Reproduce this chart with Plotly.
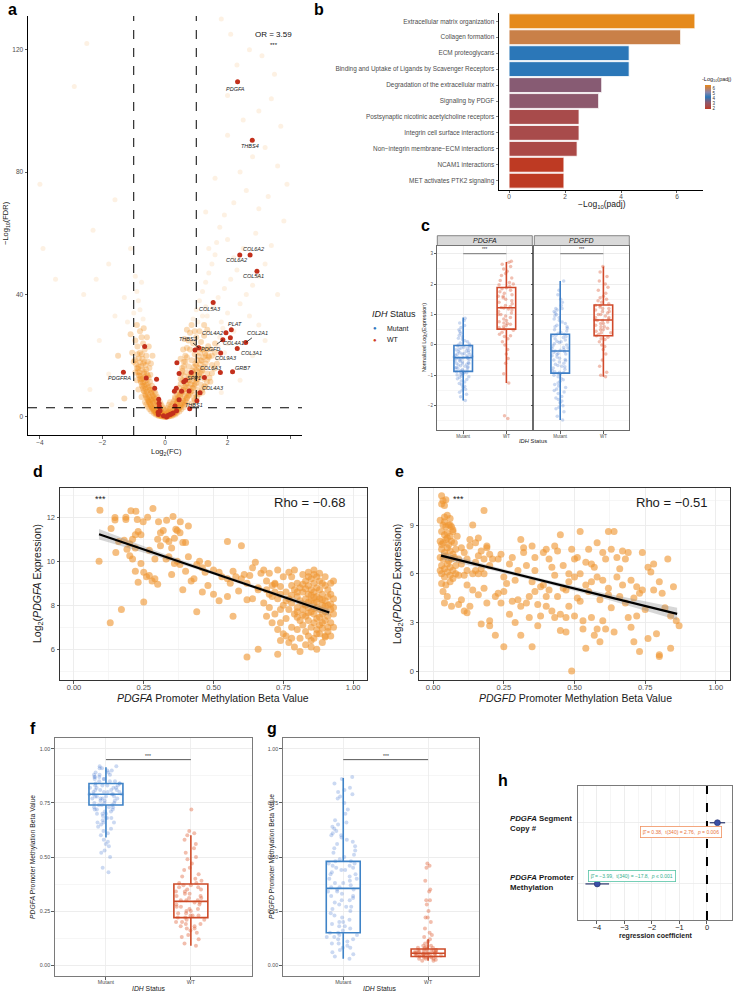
import numpy as np
import plotly.graph_objects as go

FONT = "Liberation Sans, Arial, Helvetica, sans-serif"
W, H = 736, 993

# ---------------- DATA ----------------
# (a) volcano: background genes (log2FC, -log10 FDR)
volc_bg = [
 (-0.02,0.1),(0.03,0.1),(-0.06,0.3),(0.07,0.3),(-0.1,0.6),(0.11,0.5),(-0.13,0.9),(0.14,0.8),(-0.16,1.2),(0.17,1.1),
 (-0.19,1.6),(0.2,1.5),(-0.22,2.0),(0.23,1.9),(-0.25,2.5),(0.26,2.4),(-0.28,3.0),(0.29,2.9),(-0.31,3.5),(0.32,3.4),
 (-0.34,4.0),(0.35,3.9),(-0.37,4.6),(0.38,4.5),(-0.4,5.2),(0.41,5.0),(-0.43,5.8),(0.44,5.6),(-0.08,0.2),(0.09,0.2),
 (-0.12,0.4),(0.13,0.4),(-0.18,0.7),(0.19,0.7),(-0.24,1.1),(0.25,1.0),(-0.29,1.5),(0.3,1.4),(-0.33,2.0),(0.34,2.0),
 (-0.38,2.6),(0.4,2.5),(-0.42,3.2),(0.45,3.1),(-0.46,3.9),(0.49,3.8),(-0.5,4.6),(0.53,4.5),(-0.53,5.3),(0.57,5.3),
 (-0.05,1.0),(0.06,1.1),(-0.1,1.8),(0.1,1.9),(-0.14,2.6),(0.15,2.7),(-0.18,3.4),(0.2,3.5),(-0.22,4.2),(0.24,4.3),
 (-0.26,5.0),(0.28,5.1),(-0.3,5.8),(0.32,5.9),(-0.2,0.3),(0.22,0.3),(-0.3,0.8),(0.33,0.8),(-0.36,1.3),(0.38,1.3),
 (-0.44,1.9),(0.46,1.8),(-0.5,2.6),(0.52,2.5),(-0.55,3.3),(0.6,3.2),(-0.6,4.1),(0.65,4.0),(-0.64,4.9),(0.7,4.8),
 (0.0,0.6),(0.0,1.4),(0.04,2.2),(-0.04,2.4),(0.08,3.0),(-0.07,3.1),(0.12,4.0),(-0.11,3.8),(0.16,4.8),(-0.15,4.6),
 (-0.35,6.5),(-0.4,7.2),(-0.45,8.0),(-0.5,8.8),(-0.55,9.6),(-0.6,10.5),(-0.65,11.5),(-0.7,12.6),(-0.38,9.0),(-0.42,10.2),
 (-0.48,11.5),(-0.52,12.8),(-0.58,14.0),(-0.62,7.0),(-0.68,8.5),(-0.72,10.0),(-0.78,11.8),(-0.82,13.5),(-0.3,7.5),(-0.33,8.3),
 (-0.75,6.5),(-0.85,9.0),(-0.9,12.0),(-0.95,14.5),(-0.25,6.5),(-0.57,6.2),(-0.47,13.8),(-0.66,14.8),
 (0.42,6.5),(0.48,7.3),(0.54,8.2),(0.6,9.0),(0.66,9.9),(0.72,10.9),(0.78,12.0),(0.84,13.2),(0.9,14.5),(0.45,9.5),
 (0.5,10.8),(0.56,12.0),(0.62,13.3),(0.68,14.6),(0.75,7.0),(0.82,8.2),(0.88,9.5),(0.95,10.8),(1.02,12.2),(1.1,13.6),
 (1.18,15.0),(0.38,7.5),(0.4,8.5),(0.98,7.4),(1.05,8.8),(1.15,10.5),(1.25,12.5),(1.35,14.2),(0.32,6.5),(0.7,6.3),
 (0.92,6.2),(1.2,8.0),(1.3,9.8),(1.45,11.5),(0.52,14.2),(1.0,15.3),
 (-0.5,16),(-0.55,18),(-0.6,20),(-0.65,22),(-0.7,24),(-0.75,26),(-0.8,28),(-0.45,17.5),(-0.62,17),(-0.72,19),
 (-0.8,21),(-0.88,23),(-0.95,25),(-1.0,18),(-1.05,21),(-0.4,20),(-0.52,23),(-0.58,26),(-0.68,29),(-0.85,16.5),
 (-1.1,27),(-0.9,30),
 (0.55,16),(0.6,18),(0.65,20),(0.7,22.5),(0.75,25),(0.8,27.5),(0.85,30),(0.75,16.5),(0.85,18.5),(0.95,20.5),
 (1.05,22.5),(1.15,24.5),(1.25,26.5),(1.35,28.5),(1.0,17),(1.15,18.5),(1.3,20),(1.45,22),(1.6,24),(1.75,26),
 (1.5,17),(1.7,19),(1.9,21),(0.5,19),(0.58,22),(0.62,25.5),(0.7,28.5),(1.1,28),(1.25,30),(1.4,19.5),
 (2.0,24),(2.2,28),(1.85,29),
 (-0.28,1.2),(-0.33,1.7),(-0.36,2.3),(-0.41,2.9),(-0.45,3.5),(-0.48,4.2),(-0.52,5.0),(-0.56,5.8),(-0.6,6.6),(-0.63,7.5),
 (-0.67,8.4),(-0.7,9.3),(-0.74,10.3),(-0.77,11.3),(-0.8,12.4),(-0.84,13.6),(-0.87,14.8),(-0.9,16.0),(-0.93,17.3),(-0.96,18.6),
 (-0.32,5.0),(-0.36,6.0),(-0.4,6.9),(-0.44,7.9),(-0.48,8.9),(-0.52,9.9),(-0.56,10.9),(-0.6,12.0),(-0.64,13.1),(-0.68,14.2),
 (-0.72,15.4),(-0.76,16.6),(-0.8,17.9),(-0.84,19.2),(-0.88,20.5),(-0.46,5.5),(-0.5,6.4),(-0.54,7.3),(-0.58,8.2),(-0.62,9.2),
 (-0.66,10.2),(-0.7,11.2),(-0.74,12.3),(-0.78,13.4),(-0.82,14.6),(-0.86,15.8),(-0.7,17.5),(-0.74,20.5),(-0.66,18.0),(-0.6,15.5),
 (-0.55,13.5),
 (0.3,1.2),(0.35,1.7),(0.4,2.2),(0.45,2.8),(0.5,3.4),(0.55,4.0),(0.6,4.7),(0.65,5.4),(0.7,6.1),(0.75,6.9),
 (0.8,7.7),(0.85,8.5),(0.9,9.4),(0.95,10.3),(1.0,11.2),(1.05,12.2),(1.1,13.2),(1.15,14.2),(1.2,15.3),(1.25,16.4),
 (1.3,17.5),(1.35,18.7),(1.4,19.9),(0.36,4.8),(0.42,5.8),(0.47,6.8),(0.52,7.8),(0.57,8.8),(0.62,9.8),(0.67,10.8),
 (0.72,11.9),(0.77,13.0),(0.82,14.1),(0.87,15.2),(0.92,16.3),(0.97,17.4),(1.02,18.6),(1.07,19.8),(1.12,21.0),(1.17,22.2),
 (0.58,6.0),(0.63,6.9),(0.68,7.8),(0.73,8.7),(0.78,9.7),(0.83,10.7),(0.88,11.7),(0.93,12.7),(0.98,13.8),(1.03,14.9),
 (1.08,16.0),(1.13,17.1),(1.18,18.3),(1.23,19.5),(1.28,20.7),(1.33,21.9),(1.38,23.1),(0.88,4.5),(0.95,5.5),(1.02,6.5),
 (1.1,7.5),(1.18,8.7),(1.26,10.0),(1.34,11.4),(1.42,12.8),(1.5,14.3),(1.58,15.8),(1.66,17.4),(0.5,12.5),(0.55,15),
 (0.6,16.5),(0.65,18),(0.7,19.5),(0.8,22),(0.9,24),(1.0,26),(1.2,22),(1.5,20),(1.6,21),(1.7,23),
 (0.95,28),(1.05,31),(1.2,33),(1.3,36),
 (-0.1,0.15),(0.12,0.15),(-0.15,0.35),(0.16,0.35),(-0.2,0.6),(0.2,0.6),(-0.25,0.7),(0.27,0.7),(0.0,0.0),(0.05,0.5),
 (-0.05,0.6),(0.1,1.3),(-0.1,1.3),(0.14,1.8),(-0.14,1.9),
 (-0.7,32),(-0.8,35),(-0.85,38),(-0.9,41),(-0.75,44),(-1.0,34),(-1.2,31),(-0.95,46),(-1.3,39),(-1.6,33),
 (-2.2,45),(-2.6,40),(-1.1,55),(-1.8,50),
 (0.9,32),(1.0,35),(1.1,38),(1.2,41),(1.3,44),(1.4,47),(1.5,50),(1.6,53),(1.35,33),(1.55,36),
 (1.7,39),(1.9,42),(2.1,45),(2.3,48),(1.8,31),(2.0,34),(2.4,37),(2.6,40),(2.8,43),(3.0,46),
 (3.2,50),(2.5,55),(2.0,58),(1.75,62),(2.9,60),(3.4,56),(3.6,40),(3.0,30),(2.7,33),(1.65,57),
 (2.2,52),(1.4,55),(-1.5,20),(-1.8,14),(-2.1,25),(-2.4,9),(-1.3,6),(-1.7,4),(2.4,12),(2.8,20),(3.2,25),(1.8,8),
 (1.9,66),(2.2,70),(2.6,74),(3.0,68),(3.3,72),(2.4,80),(2.8,85),(3.2,88),(3.6,82),(2.0,92),
 (2.5,97),(3.0,100),(3.4,104),(2.3,115),(2.7,120),(3.1,118),(3.5,112),(1.8,130),(2.1,125),(3.7,95),
 (1.6,78),(1.3,67),(3.9,76),(2.0,105),(3.8,64),(-2.9,108),(-2.5,122),(-4.0,76),(-3.9,55),(-3.5,45),
 (-2.3,61),(-1.6,71),
]
# (a) highlighted (ECM / PDGF pathway) genes
volc_hl = [
 (2.32,109.5),(2.79,90.4),(2.72,52.9),(2.39,52.9),(2.94,47.6),(1.54,37.4),(2.12,28.5),(1.95,27.5),(2.09,25.9),
 (1.85,25.2),(2.58,24.3),(2.31,22.4),(0.96,21.9),(1.08,22.6),(1.78,20.9),(-0.65,23.0),(0.38,17.7),(2.16,14.8),
 (1.77,14.5),(-1.33,14.6),(0.45,14.2),(0.84,14.5),(1.26,12.9),(-0.6,12.7),(-0.27,12.3),(0.66,12.0),(0.6,11.5),
 (-0.33,9.4),(0.36,9.4),(0.53,8.4),(0.77,8.5),(1.12,7.9),(0.3,8.4),(-0.2,5.8),(0.45,5.6),(1.02,5.3),(-0.18,3.3),
 (0.32,3.6),(0.79,2.7),(-0.16,2.0),(-0.21,0.8),(-0.05,0.4),(0.05,0.0),(0.16,0.8),(0.26,1.3),(0.37,2.0),
 (-0.19,4.5),(-0.22,1.5),(0.09,0.5),(0.2,1.0),
]
# gene labels: (name, label x, label y)
volc_labels = [
 ("PDGFA",2.24,107.2),("THBS4",2.72,88.5),("COL6A2",2.84,55.0),("COL6A2",2.30,51.2),("COL5A1",2.84,45.9),
 ("COL5A3",1.45,35.4),("PLAT",2.25,30.3),("COL4A2",1.51,27.4),("COL4A1",2.19,24.1),("COL3A1",2.78,20.8),
 ("COL9A3",1.94,19.2),("COL6A3",1.47,16.0),("GRB7",2.50,16.0),("PDGFRA",-1.44,12.6),("SPP1",0.94,12.7),
 ("COL4A3",1.54,9.6),("THBS1",0.92,3.8),
]
# labels with leader lines: (name, point x, point y, label x, label y)
volc_leader = [("THBS2",1.08,22.6,0.72,25.6),("PDGFD",1.85,25.2,1.46,22.3),("COL2A1",2.58,24.3,2.97,27.3)]
volc_fc_cut = [-1, 1]
volc_fdr_cut = 3.0

# (b) Reactome enrichment
b_terms = ["Extracellular matrix organization","Collagen formation","ECM proteoglycans",
           "Binding and Uptake of Ligands by Scavenger Receptors","Degradation of the extracellular matrix",
           "Signaling by PDGF","Postsynaptic nicotinic acetylcholine receptors","Integrin cell surface interactions",
           "Non\u2212integrin membrane\u2212ECM interactions","NCAM1 interactions","MET activates PTK2 signaling"]
b_vals = [6.64, 6.13, 4.29, 4.29, 3.31, 3.20, 2.50, 2.50, 2.43, 1.96, 1.96]
b_ticks = [0, 2, 4, 6]

# (c) normalized expression by IDH status
c_genes = ["PDGFA", "PDGFD"]
c_groups = ["Mutant", "WT"]
c_pdgfa_mut = [-1.83,-1.71,-1.62,-1.56,-1.49,-1.46,-1.39,-1.36,-1.31,-1.27,-1.22,-1.19,-1.14,-1.11,-1.07,-1.05,-1.02,-0.99,
 -0.97,-0.95,-0.92,-0.9,-0.88,-0.86,-0.85,-0.83,-0.81,-0.78,-0.76,-0.74,-0.72,-0.7,-0.69,-0.66,-0.64,-0.62,-0.6,-0.58,
 -0.56,-0.54,-0.52,-0.5,-0.48,-0.46,-0.44,-0.43,-0.42,-0.41,-0.4,-0.38,-0.36,-0.34,-0.32,-0.3,-0.28,-0.26,-0.24,-0.22,
 -0.2,-0.18,-0.16,-0.14,-0.12,-0.1,-0.08,-0.06,-0.04,-0.02,0.0,0.03,0.06,0.1,0.14,0.18,0.22,0.27,0.32,0.38,0.44,0.5,
 0.57,0.64,0.72,0.8,0.88,-0.91,-0.75,-0.61,-0.45,-0.31]
c_pdgfa_wt = [-2.42,-2.33,-1.25,-0.95,-0.6,-0.45,-0.3,-0.15,0.0,0.1,0.2,0.28,0.35,0.42,0.48,0.52,0.56,0.6,0.64,0.68,0.72,
 0.76,0.8,0.85,0.9,0.95,1.0,1.05,1.1,1.15,1.18,1.21,1.23,1.26,1.3,1.35,1.4,1.45,1.5,1.55,1.6,1.65,1.7,1.75,1.8,1.85,
 1.88,1.92,1.98,2.05,2.12,2.2,2.28,2.35,2.42,2.5,2.58,2.65,2.72,2.75,0.3,0.7,1.0,1.6,2.0]
c_pdgfd_mut = [-2.47,-2.35,-2.2,-2.1,-2.0,-1.9,-1.85,-1.75,-1.7,-1.6,-1.55,-1.5,-1.45,-1.4,-1.35,-1.3,-1.25,-1.2,-1.15,
 -1.1,-1.05,-1.0,-0.97,-0.94,-0.91,-0.88,-0.85,-0.8,-0.76,-0.72,-0.68,-0.64,-0.6,-0.56,-0.52,-0.48,-0.44,-0.4,-0.36,
 -0.32,-0.28,-0.25,-0.22,-0.2,-0.18,-0.15,-0.12,-0.08,-0.04,0.0,0.04,0.08,0.12,0.16,0.2,0.24,0.28,0.32,0.35,0.38,0.42,
 0.46,0.5,0.55,0.6,0.65,0.7,0.75,0.8,0.85,0.9,0.95,1.0,1.05,1.1,1.15,1.2,1.3,1.4,1.5,1.65,1.8,2.1,-0.5,-0.3,-0.1,0.1,
 -0.9,-0.7,0.3,-1.8,-2.05,1.2,0.6]
c_pdgfd_wt = [-1.05,-1.0,-0.9,-0.7,-0.5,-0.3,-0.15,0.0,0.1,0.18,0.25,0.3,0.35,0.4,0.45,0.5,0.55,0.6,0.65,0.7,0.75,0.8,
 0.82,0.85,0.9,0.95,1.0,1.05,1.1,1.15,1.2,1.25,1.3,1.35,1.4,1.5,1.55,1.6,1.7,1.8,1.9,2.0,2.1,2.25,2.4,2.58,0.5,0.7,
 0.9,1.1,1.3,0.4,0.6,0.8,1.0,1.2,-0.05,1.45,0.2]
# box stats: lower whisker, q1, median, q3, upper whisker
c_pdgfa_mut_box = [-1.83, -0.87, -0.42, -0.02, 0.90]
c_pdgfa_wt_box = [-1.25, 0.52, 1.22, 1.89, 2.73]
c_pdgfd_mut_box = [-2.47, -0.93, -0.20, 0.35, 2.10]
c_pdgfd_wt_box = [-1.05, 0.30, 0.82, 1.31, 2.58]

# (d) PDGFA methylation vs expression
d_beta = [0.093,0.09,0.133,0.147,0.147,0.186,0.186,0.204,0.222,0.227,0.248,0.264,0.283,0.303,0.332,0.355,0.381,
 0.15,0.16,0.18,0.2,0.21,0.22,0.23,0.24,0.19,0.22,0.2,0.21,0.24,0.22,0.25,0.23,0.26,0.27,0.28,0.29,0.25,0.13,0.17,0.3,
 0.33,0.34,0.35,0.37,0.27,0.3,0.31,0.32,0.33,0.34,0.35,0.36,0.37,0.39,0.4,0.38,0.41,0.365,0.31,0.29,0.36,0.38,0.40,
 0.42,0.43,0.44,0.45,0.41,0.39,0.46,0.47,
 0.48,0.5,0.52,0.53,0.55,0.57,0.56,0.58,0.59,0.6,0.61,0.62,0.64,0.65,0.63,0.66,0.67,0.68,0.69,0.69,0.70,0.71,0.72,0.73,
 0.75,0.74,0.55,0.6,0.52,0.5,0.55,0.57,0.62,0.64,0.66,0.68,0.7,0.46,0.48,0.44,0.66,0.73,0.74,0.62,0.77,
 0.76,0.77,0.78,0.78,0.79,0.79,0.8,0.8,0.8,0.81,0.81,0.81,0.82,0.82,0.82,0.82,0.83,0.83,0.83,0.83,0.83,0.84,0.84,0.84,
 0.84,0.84,0.84,0.85,0.85,0.85,0.85,0.85,0.86,0.86,0.86,0.86,0.86,0.86,0.86,0.87,0.87,0.87,0.87,0.87,0.87,0.88,0.88,
 0.88,0.88,0.88,0.88,0.89,0.89,0.89,0.89,0.89,0.9,0.9,0.9,0.9,0.9,0.91,0.91,0.91,0.91,0.92,0.92,0.92,0.92,0.93,0.93,
 0.93,0.78,0.79,0.77,0.76,0.75,0.74,0.73,0.72,0.71,0.8,0.81,0.83,0.85,0.87,0.89,0.9,0.76,0.78,0.74,0.72,0.78,0.8,0.82,
 0.84,0.86,0.88,0.9,0.92,0.83,0.85,0.87,0.89,0.91,0.93,0.86,0.84,0.82,0.8,0.85,0.87,0.89,0.91,0.92,0.93,0.9,0.88,0.86,
 0.84,0.82,0.8,0.78,0.76,0.74,0.72,0.7,0.69,0.71,0.73,0.75,0.77,0.79,0.81]
d_expr = [12.32,10.0,11.49,11.99,11.87,11.9,12.0,12.29,12.27,11.9,11.8,12.0,12.4,11.8,11.86,12.03,11.8,
 10.4,10.9,10.95,10.8,11.0,11.2,11.35,11.2,10.55,10.6,10.25,10.1,9.9,9.55,9.5,9.05,9.3,9.35,9.1,9.2,8.15,7.2,7.8,8.95,
 10.1,10.2,9.4,10.0,10.5,11.0,11.3,11.4,11.0,10.9,10.6,11.05,11.4,10.85,10.85,11.3,11.6,11.45,10.7,10.1,9.9,9.85,9.55,
 9.1,9.2,9.85,10.0,10.2,8.7,9.7,9.5,
 9.9,9.6,9.5,9.3,9.2,9.55,9.0,9.3,8.65,9.2,9.4,9.0,9.7,9.95,9.35,8.8,9.45,9.6,9.1,8.7,9.45,8.9,9.0,9.6,
 9.3,8.5,10.9,10.7,8.2,8.5,8.4,7.5,8.25,8.3,8.7,8.1,7.9,8.6,8.9,7.7,6.0,5.77,6.4,5.65,9.5,
 8.6,8.3,8.9,8.1,8.7,7.6,9.0,8.4,7.9,8.2,8.8,7.3,9.4,8.6,7.8,7.1,9.1,8.3,8.0,7.5,6.8,9.5,8.9,8.5,
 7.9,7.3,6.6,9.2,8.7,8.2,7.7,7.0,9.4,9.0,8.6,8.1,7.6,7.2,6.5,9.3,8.8,8.4,7.9,7.4,6.9,9.1,8.7,
 8.3,7.8,7.1,6.7,9.0,8.5,8.0,7.6,7.2,8.9,8.2,7.7,7.3,6.6,8.7,8.0,7.5,7.0,8.5,7.8,7.2,6.6,8.3,7.6,
 7.0,9.3,9.6,7.8,7.4,8.0,7.8,8.3,8.6,8.4,6.9,6.5,6.2,6.1,6.0,6.3,6.55,6.6,6.5,7.2,7.6,7.0,7.45,8.05,
 8.15,7.85,7.45,7.95,8.05,8.75,8.45,8.15,8.25,8.4,7.9,8.35,7.65,7.55,7.7,6.4,6.7,6.95,6.8,9.0,9.1,9.3,9.45,9.6,
 9.3,8.95,8.6,8.45,8.2,8.85,8.95,8.5,7.5,7.2,6.9,6.7,6.3,6.1,5.9]
d_fit_x = [0.090, 0.915]
d_fit_y = [11.23, 7.67]
d_band_x = [0.09, 0.3, 0.5, 0.7, 0.915]
d_band_half = [0.24, 0.12, 0.08, 0.08, 0.15]

# (e) PDGFD methylation vs expression
e_beta = [0.03,0.035,0.04,0.03,0.045,0.025,0.04,0.05,0.06,0.035,0.045,0.055,0.065,0.03,0.04,0.05,0.06,0.07,0.025,0.035,
 0.045,0.055,0.065,0.075,0.03,0.04,0.05,0.06,0.07,0.08,0.025,0.035,0.045,0.055,0.065,0.075,0.03,0.04,0.05,0.06,0.07,
 0.08,0.03,0.04,0.05,0.06,0.07,0.03,0.045,0.06,0.035,0.05,0.04,0.065,0.03,0.05,0.07,0.04,0.06,0.025,0.08,0.09,0.085,0.09,
 0.1,0.1,0.11,0.11,0.12,0.12,0.13,0.13,0.14,0.14,0.15,0.15,0.16,0.16,0.17,0.17,0.18,0.18,0.19,0.19,0.2,0.2,0.1,0.11,
 0.12,0.13,0.15,0.16,0.18,0.19,0.09,0.14,0.2,0.18,0.16,0.12,0.17,0.2,0.21,0.22,
 0.22,0.23,0.24,0.25,0.25,0.26,0.27,0.28,0.28,0.29,0.3,0.3,0.31,0.31,0.32,0.33,0.34,0.35,0.35,0.36,0.36,0.37,0.38,0.38,
 0.39,0.4,0.4,0.41,0.41,0.42,0.42,0.43,0.43,0.44,0.44,0.45,0.45,0.46,0.46,0.47,0.47,0.48,0.48,0.49,0.49,0.5,0.5,0.51,
 0.51,0.52,0.52,0.53,0.53,0.54,0.54,0.55,0.55,0.56,0.56,0.57,0.57,0.58,0.58,0.59,0.59,0.6,0.6,0.61,0.61,0.62,0.62,0.63,
 0.63,0.64,0.64,0.65,0.65,0.66,0.66,0.45,0.4,0.34,0.33,0.36,0.39,0.48,0.52,0.58,0.62,0.29,0.27,0.32,0.24,0.23,0.31,0.6,
 0.54,0.56,0.43,0.47,0.5,0.35,0.37,0.25,
 0.67,0.67,0.68,0.68,0.69,0.7,0.7,0.71,0.72,0.72,0.73,0.73,0.74,0.74,0.75,0.76,0.77,0.78,0.78,0.79,0.8,0.81,0.82,0.83,
 0.84,0.85,0.86,0.87,0.84,0.8,0.76,0.71,0.69,0.8]
e_expr = [10.8,10.5,10.2,10.3,10.55,9.3,9.5,9.6,9.4,9.0,8.9,9.0,8.9,8.6,8.4,8.5,8.3,8.6,8.0,7.9,
 8.1,7.8,8.0,7.9,7.5,7.3,7.6,7.4,7.2,7.5,7.0,6.9,7.1,6.8,6.9,7.0,6.5,6.3,6.6,6.4,6.2,
 6.5,6.0,5.8,6.1,5.9,5.7,5.4,5.3,5.5,4.9,4.6,4.2,4.0,7.8,8.2,8.7,9.2,9.0,6.2,6.0,6.9,8.3,5.9,
 7.6,6.6,7.3,5.9,6.9,6.2,7.7,4.0,6.0,9.0,6.7,6.2,7.1,4.7,7.4,2.9,6.0,5.1,7.6,4.2,6.5,2.8,4.4,3.7,
 3.6,8.1,7.9,8.2,9.9,7.7,4.1,5.0,3.1,6.9,6.0,5.3,6.3,7.2,6.9,4.6,
 2.2,6.9,7.2,5.8,4.9,5.4,6.6,7.0,4.3,3.0,4.4,6.2,8.1,4.0,7.3,4.2,4.6,7.7,5.5,4.9,7.0,2.8,3.4,5.2,
 7.3,7.5,4.6,6.9,5.0,3.7,6.4,7.7,5.9,4.6,7.4,3.5,8.4,5.1,6.5,2.4,3.3,6.0,4.0,7.5,0.0,5.8,3.4,7.0,
 4.5,8.6,6.0,2.6,3.1,5.3,6.7,4.9,7.5,3.3,6.6,2.2,6.4,7.9,5.8,4.4,1.8,5.6,3.1,6.9,2.6,5.1,8.6,7.5,
 3.9,8.6,2.4,5.8,7.0,4.6,6.3,2.5,4.0,3.3,6.5,6.2,5.3,5.5,4.3,2.6,4.7,5.6,3.5,7.6,4.2,4.8,2.2,7.3,
 1.4,5.5,3.3,5.0,6.9,1.5,4.1,1.5,
 5.3,7.4,6.9,4.2,3.3,5.6,2.7,1.8,5.2,3.4,4.8,1.2,7.3,5.0,3.8,6.4,6.1,5.0,6.6,2.3,5.5,4.8,3.9,6.9,
 3.4,5.2,3.1,2.8,1.4,1.0,2.0,4.5,7.3,0.9]
e_fit_x = [0.028, 0.863]
e_fit_y = [7.11, 3.52]
e_band_x = [0.028, 0.2, 0.4, 0.6, 0.863]
e_band_half = [0.22, 0.13, 0.11, 0.17, 0.38]

# (f) PDGFA promoter methylation by IDH status
f_mut = [0.43,0.45,0.5,0.52,0.53,0.55,0.56,0.57,0.58,0.6,0.61,0.62,0.63,0.64,0.65,0.66,0.66,0.67,0.68,0.68,0.69,0.7,0.7,
 0.71,0.71,0.72,0.72,0.73,0.73,0.73,0.74,0.74,0.74,0.75,0.75,0.75,0.76,0.76,0.76,0.77,0.77,0.77,0.77,0.78,0.78,0.78,
 0.78,0.79,0.79,0.79,0.79,0.79,0.8,0.8,0.8,0.8,0.81,0.81,0.81,0.81,0.82,0.82,0.82,0.82,0.83,0.83,0.83,0.83,0.84,0.84,
 0.84,0.85,0.85,0.85,0.86,0.86,0.86,0.87,0.87,0.87,0.88,0.88,0.88,0.89,0.89,0.9,0.9,0.91,0.91,0.92,0.92,0.72,0.7,0.68,0.66]
f_wt = [0.09,0.1,0.12,0.13,0.14,0.15,0.16,0.17,0.17,0.18,0.18,0.19,0.19,0.2,0.2,0.21,0.21,0.22,0.22,0.23,0.23,0.24,0.24,
 0.25,0.25,0.26,0.26,0.27,0.27,0.28,0.28,0.29,0.29,0.3,0.3,0.3,0.31,0.31,0.32,0.32,0.33,0.33,0.34,0.34,0.35,0.35,0.36,
 0.36,0.37,0.37,0.38,0.38,0.39,0.4,0.41,0.42,0.44,0.45,0.47,0.49,0.5,0.52,0.54,0.56,0.58,0.6,0.61,0.62,0.72,0.23]
f_mut_box = [0.59, 0.74, 0.79, 0.84, 0.915]
f_wt_box = [0.09, 0.22, 0.295, 0.375, 0.60]

# (g) PDGFD promoter methylation by IDH status
g_mut = [0.03,0.04,0.05,0.06,0.07,0.08,0.08,0.09,0.1,0.1,0.11,0.12,0.12,0.13,0.13,0.14,0.14,0.15,0.15,0.16,0.17,0.18,
 0.18,0.19,0.2,0.2,0.21,0.22,0.23,0.24,0.25,0.26,0.27,0.27,0.28,0.29,0.3,0.3,0.31,0.32,0.32,0.33,0.34,0.34,0.35,0.35,
 0.36,0.36,0.37,0.38,0.38,0.39,0.4,0.4,0.41,0.42,0.42,0.43,0.44,0.44,0.45,0.45,0.46,0.46,0.47,0.47,0.48,0.48,0.49,0.5,
 0.51,0.52,0.53,0.54,0.55,0.56,0.57,0.58,0.59,0.6,0.6,0.61,0.62,0.63,0.64,0.65,0.66,0.67,0.7,0.72,0.75,0.77,0.78,0.79,
 0.8,0.81,0.82,0.84,0.86,0.87]
g_wt = [0.02,0.025,0.03,0.03,0.035,0.035,0.04,0.04,0.04,0.045,0.045,0.045,0.05,0.05,0.05,0.05,0.05,0.055,0.055,0.055,
 0.055,0.06,0.06,0.06,0.06,0.065,0.065,0.065,0.07,0.07,0.07,0.075,0.075,0.08,0.08,0.085,0.09,0.09,0.1,0.11,0.12,0.02,
 0.03,0.04,0.05,0.06,0.07,0.08,0.035,0.045,0.055,0.065,0.13,0.14,0.15,0.17,0.2,0.22,0.22,0.25,0.28,0.3,0.3,0.34,0.35,
 0.39,0.45,0.46,0.47]
g_mut_box = [0.03, 0.15, 0.355, 0.48, 0.865]
g_wt_box = [0.02, 0.04, 0.055, 0.075, 0.12]

# (h) multiple regression
h_terms = ["PDGFA Promoter Methylation", "PDGFA Segment Copy #"]
h_coef = [-3.99, 0.38]
h_err = [0.43, 0.28]
h_stats = ["\u03b2\u0302 = \u22123.99,  t(340) = \u221217.8,  <i>p</i> \u2264 0.001",
           "\u03b2\u0302 = 0.38,  t(340) = 2.76,  <i>p</i> = 0.006"]

# ---------------- FIGURE ----------------
def X(p): return p / W
def Y(p): return 1 - p / H

BLUE_L, RED_L = "#3D7EC6", "#D0492A"
BLUE_P, RED_P = "rgba(70,120,205,0.28)", "rgba(220,95,60,0.40)"
GRID = "#EBEBEB"
TICKC = "#4D4D4D"

fig = go.Figure()
ann = []
shapes = []

def txt(x, y, text, size, **kw):
    d = dict(x=X(x), y=Y(y), xref="paper", yref="paper", text=text, showarrow=False,
             xanchor="center", yanchor="middle",
             font=dict(size=size, family=FONT, color=kw.pop("color", "#1a1a1a")))
    d.update(kw)
    ann.append(d)

# ---- (a) volcano (dense core of the V drawn a bit stronger than the sparse outer genes)
core = [p for p in volc_bg if abs(p[0]) < 1.7 and p[1] < 31]
outer = [p for p in volc_bg if not (abs(p[0]) < 1.7 and p[1] < 31)]
fig.add_trace(go.Scatter(x=[p[0] for p in outer], y=[p[1] for p in outer], mode="markers", xaxis="x", yaxis="y",
                         hoverinfo="skip", marker=dict(color="#F2962A", size=5, opacity=0.13, line=dict(width=0)),
                         showlegend=False))
fig.add_trace(go.Scatter(x=[p[0] for p in core], y=[p[1] for p in core], mode="markers", xaxis="x", yaxis="y",
                         hoverinfo="skip", marker=dict(color="#F0901E", size=6, opacity=0.32, line=dict(width=0)),
                         showlegend=False))
fig.add_trace(go.Scatter(x=[p[0] for p in volc_hl], y=[p[1] for p in volc_hl], mode="markers", xaxis="x", yaxis="y",
                         marker=dict(color="#C3301C", size=5, line=dict(width=0)), showlegend=False))
for v in volc_fc_cut:
    shapes.append(dict(type="line", xref="x", yref="y domain", x0=v, x1=v, y0=0, y1=1,
                       line=dict(color="black", width=1, dash="dash")))
shapes.append(dict(type="line", xref="x domain", yref="y", x0=0, x1=1, y0=volc_fdr_cut, y1=volc_fdr_cut,
                   line=dict(color="black", width=1, dash="dash")))
for name, lx, ly in volc_labels:
    ann.append(dict(x=lx, y=ly, xref="x", yref="y", text=f"<i>{name}</i>", showarrow=False,
                    font=dict(size=5.5, family=FONT, color="#222")))
for name, x0, y0, lx, ly in volc_leader:
    ann.append(dict(x=x0, y=y0, ax=lx, ay=ly, xref="x", yref="y", axref="x", ayref="y",
                    text=f"<i>{name}</i>", showarrow=True, arrowhead=0, arrowwidth=0.8, arrowcolor="#111",
                    font=dict(size=5.5, family=FONT, color="#222")))
ann.append(dict(x=3.48, y=124.8, xref="x", yref="y", text="OR = 3.59", showarrow=False,
                font=dict(size=8, family=FONT, color="#111")))
ann.append(dict(x=3.48, y=121.5, xref="x", yref="y", text="***", showarrow=False,
                font=dict(size=6, family=FONT, color="#111")))
txt(166, 452, "Log<sub>2</sub>(FC)", 7.5)
txt(6, 223, "\u2212Log<sub>10</sub>(FDR)", 7.5, textangle=-90)

# ---- (b) bars
fig.add_trace(go.Bar(x=b_vals, y=b_terms, orientation="h", xaxis="x2", yaxis="y2", showlegend=False,
                     marker=dict(color=b_vals, cmin=1.95, cmax=6.64, line=dict(color="white", width=0.8),
                                 colorscale=[[0, "#BE3A22"], [0.117, "#A84B4B"], [0.28, "#8B5A70"], [0.50, "#2B77B8"],
                                             [0.70, "#8E86A8"], [0.89, "#C98049"], [1, "#E58A1C"]],
                                 colorbar=dict(x=X(705), xanchor="left", y=Y(97), yanchor="middle", len=24,
                                               lenmode="pixels", thickness=6, thicknessmode="pixels",
                                               outlinewidth=0, ticks="", xpad=0, ypad=0,
                                               tickvals=[2, 3, 4, 5, 6],
                                               tickfont=dict(size=4.5, family=FONT, color="#333"))),
                     width=0.93))
txt(602, 204, "\u2212Log<sub>10</sub>(padj)", 8.5)
txt(717, 79, "-Log<sub>10</sub>(padj)", 5.5)

# ---- (c) boxplots
def box_pair(vals, stats, xpos, color_l, color_p, xa, ya, width, psize):
    fig.add_trace(go.Box(y=vals, x0=xpos, xaxis=xa, yaxis=ya, boxpoints="all", jitter=1, pointpos=0,
                         width=width, fillcolor="rgba(0,0,0,0)", line=dict(color="rgba(0,0,0,0)", width=0),
                         marker=dict(color=color_p, size=psize, line=dict(width=0)), showlegend=False,
                         hoverinfo="skip"))
    fig.add_trace(go.Box(x=[xpos], lowerfence=[stats[0]], q1=[stats[1]], median=[stats[2]], q3=[stats[3]],
                         upperfence=[stats[4]], xaxis=xa, yaxis=ya, width=width, whiskerwidth=0,
                         fillcolor="rgba(0,0,0,0)", line=dict(color=color_l, width=1.6), boxpoints=False,
                         showlegend=False))

box_pair(c_pdgfa_mut, c_pdgfa_mut_box, 1, BLUE_L, BLUE_P, "x3", "y3", 0.43, 3.5)
box_pair(c_pdgfa_wt, c_pdgfa_wt_box, 2, RED_L, RED_P, "x3", "y3", 0.43, 3.5)
box_pair(c_pdgfd_mut, c_pdgfd_mut_box, 1, BLUE_L, BLUE_P, "x4", "y4", 0.43, 3.5)
box_pair(c_pdgfd_wt, c_pdgfd_wt_box, 2, RED_L, RED_P, "x4", "y4", 0.43, 3.5)
for xa, ya in [("x3", "y3"), ("x4", "y4")]:
    shapes.append(dict(type="line", xref=xa, yref=ya, x0=1, x1=2, y0=3.0, y1=3.0, line=dict(color="#555", width=0.8)))
    ann.append(dict(x=1.5, y=3.13, xref=xa, yref=ya, text="***", showarrow=False, font=dict(size=4.5, family=FONT, color="#333")))
for (x0, x1), gname in zip([(437.3, 532.3), (534.3, 629.3)], c_genes):
    shapes.append(dict(type="rect", xref="paper", yref="paper", x0=X(x0), x1=X(x1), y0=Y(245.5), y1=Y(235.7),
                       fillcolor="#D9D9D9", line=dict(color="#6b6b6b", width=0.8)))
    txt((x0 + x1) / 2, 240.6, f"<i>{gname}</i>", 7)
txt(424, 338, "Normalized Log<sub>2</sub>(Expression)", 5.3, textangle=-90)
txt(533, 441, "<i>IDH</i> Status", 5.8)
# legend (IDH status)
txt(370, 314, "<i>IDH</i> Status", 9, xanchor="left")
for (g, col), yy in zip(zip(c_groups, ["#2F78BE", "#CF3B26"]), [328, 340]):
    txt(375, yy, "\u25CF", 6, color=col)
    txt(385, yy, g, 7, xanchor="left")

# ---- (d), (e) scatter
def scat(bx, by, fx, fy, bandx, bandh, xa, ya):
    line_b = np.interp(bandx, fx, fy)
    up = list(line_b + np.array(bandh)); lo = list(line_b - np.array(bandh))
    fig.add_trace(go.Scatter(x=bx, y=by, mode="markers", xaxis=xa, yaxis=ya, showlegend=False,
                             marker=dict(color="rgba(239,150,50,0.62)", size=7, line=dict(width=0))))
    fig.add_trace(go.Scatter(x=list(bandx) + list(bandx)[::-1], y=up + lo[::-1], fill="toself", mode="lines",
                             line=dict(width=0), fillcolor="rgba(140,140,140,0.35)", xaxis=xa, yaxis=ya,
                             showlegend=False, hoverinfo="skip"))
    fig.add_trace(go.Scatter(x=fx, y=fy, mode="lines", line=dict(color="black", width=2.2), xaxis=xa, yaxis=ya,
                             showlegend=False))

scat(d_beta, d_expr, d_fit_x, d_fit_y, d_band_x, d_band_half, "x5", "y5")
scat(e_beta, e_expr, e_fit_x, e_fit_y, e_band_x, e_band_half, "x6", "y6")
txt(348, 502, "Rho = \u22120.68", 13, xanchor="right")
txt(710, 502, "Rho = \u22120.51", 13, xanchor="right")
txt(100, 499, "***", 9)
txt(458, 499, "***", 9)
txt(38, 584, "Log<sub>2</sub>(<i>PDGFA</i> Expression)", 10.5, textangle=-90)
txt(398, 584, "Log<sub>2</sub>(<i>PDGFD</i> Expression)", 10.5, textangle=-90)
txt(213, 698, "<i>PDGFA</i> Promoter Methylation Beta Value", 10.5)
txt(575, 698, "<i>PDGFD</i> Promoter Methylation Beta Value", 10.5)

# ---- (f), (g)
box_pair(f_mut, f_mut_box, 1, "#3F83C7", "rgba(70,120,210,0.28)", "x7", "y7", 0.4, 4)
box_pair(f_wt, f_wt_box, 2, "#CD4B28", "rgba(225,100,60,0.42)", "x7", "y7", 0.4, 4)
box_pair(g_mut, g_mut_box, 1, "#3F83C7", "rgba(70,120,210,0.28)", "x8", "y8", 0.4, 4)
box_pair(g_wt, g_wt_box, 2, "#CD4B28", "rgba(225,100,60,0.42)", "x8", "y8", 0.4, 4)
for xa, ya in [("x7", "y7"), ("x8", "y8")]:
    shapes.append(dict(type="line", xref=xa, yref=ya, x0=1, x1=2, y0=0.95, y1=0.95, line=dict(color="#444", width=0.9)))
    ann.append(dict(x=1.5, y=0.968, xref=xa, yref=ya, text="***", showarrow=False, font=dict(size=5, family=FONT, color="#333")))
txt(33, 857, "<i>PDGFA</i> Promoter Methylation Beta Value", 6.8, textangle=-90)
txt(272, 857, "<i>PDGFD</i> Promoter Methylation Beta Value", 6.8, textangle=-90)
txt(148, 988, "<i>IDH</i> Status", 6.8)
txt(379, 988, "<i>IDH</i> Status", 6.8)

# ---- (h)
fig.add_trace(go.Scatter(x=h_coef, y=h_terms, mode="markers", xaxis="x9", yaxis="y9", showlegend=False,
                         marker=dict(color="#3A4FA6", size=6, line=dict(color="#27306a", width=0.6)),
                         error_x=dict(type="data", array=h_err, color="#46507E", thickness=1.4, width=0)))
shapes.append(dict(type="line", xref="x9", yref="y9 domain", x0=0, x1=0, y0=0, y1=1,
                   line=dict(color="black", width=2, dash="dash")))
ann.append(dict(x=-0.95, y=0.85, xref="x9", yref="y9", text=h_stats[1], showarrow=False,
                font=dict(size=5, family=FONT, color="#E8743B"), bordercolor="#F1925F", borderwidth=0.8,
                borderpad=2, bgcolor="white"))
ann.append(dict(x=-2.71, y=0.13, xref="x9", yref="y9", text=h_stats[0], showarrow=False,
                font=dict(size=5, family=FONT, color="#34B08E"), bordercolor="#56C4A5", borderwidth=0.8,
                borderpad=2, bgcolor="white"))
txt(508, 823, "<b><i>PDGFA</i> Segment<br>Copy #</b>", 7.8, xanchor="left", align="left")
txt(508, 882, "<b><i>PDGFA</i> Promoter<br>Methylation</b>", 7.8, xanchor="left", align="left")
txt(655, 936, "<b>regression coefficient</b>", 7)

# ---- panel letters
for L, (x, y) in zip("abcdefgh", [(13, 9), (319, 9), (425, 225), (38, 472), (399, 472), (33, 728), (272, 728), (503, 780)]):
    txt(x, y, f"<b>{L}</b>", 16, color="black")

# ---------------- AXES ----------------
def axis(domain, rng, tickvals=None, ticktext=None, size=7, line=True, mirror=False, grid=False, lc="black",
         lw=1, ticks="outside", showlabels=True, **kw):
    d = dict(domain=domain, range=rng, showline=line, linecolor=lc, linewidth=lw, mirror=mirror,
             showgrid=grid, gridcolor=GRID, gridwidth=0.8, zeroline=False, ticks=ticks, ticklen=2.5,
             tickcolor="#333", tickwidth=0.8, tickfont=dict(size=size, family=FONT, color=TICKC),
             showticklabels=showlabels, fixedrange=True)
    if tickvals is not None:
        d["tickmode"] = "array"; d["tickvals"] = tickvals
        if ticktext is not None:
            d["ticktext"] = ticktext
    d.update(kw)
    return d

lay = dict(width=W, height=H, margin=dict(l=0, r=0, t=0, b=0), autosize=False, showlegend=False,
           paper_bgcolor="white", plot_bgcolor="rgba(0,0,0,0)", boxmode="overlay", bargap=0.07,
           font=dict(family=FONT), annotations=ann, shapes=shapes)

# a
lay["xaxis"] = axis([X(28), X(302)], [-4.38, 4.38], [-4, -2, 0, 2, 4], ["\u22124", "\u22122", "0", "2", ""], size=6.5,
                    anchor="y", ticklabelstandoff=-1)
lay["yaxis"] = axis([Y(435), Y(16)], [-5.9, 131], [0, 40, 80, 120], size=6.5, anchor="x")
# b
lay["xaxis2"] = axis([X(499), X(703)], [-0.36, 6.93], b_ticks, size=6.5, anchor="y2", ticklabelstandoff=-2)
lay["yaxis2"] = axis([Y(189.5), Y(12.5)], [10.55, -0.55], size=6.4, anchor="x2", type="category",
                     categoryorder="array", categoryarray=b_terms, tickcolor="#666")
# c
for i, (d0, d1) in zip([3, 4], [(437.3, 532.3), (534.3, 629.3)]):
    lay[f"xaxis{i}"] = axis([X(d0), X(d1)], [0.4, 2.6], [1, 2], c_groups, size=4.5, mirror=True, grid=True,
                            lc="#6b6b6b", lw=1, anchor=f"y{i}", ticklabelstandoff=-1)
    lay[f"yaxis{i}"] = axis([Y(430), Y(245.5)], [-2.8, 3.27], [-2, -1, 0, 1, 2, 3], ["\u22122", "\u22121", "0", "1", "2", "3"],
                            size=4.5, mirror=True, grid=True, lc="#6b6b6b", lw=1, anchor=f"x{i}",
                            showlabels=(i == 3), minor=dict(dtick=0.5, showgrid=True, gridcolor="#F4F4F4"))
# d, e
lay["xaxis5"] = axis([X(60), X(367)], [-0.05, 1.05], [0, 0.25, 0.5, 0.75, 1.0], ["0.00", "0.25", "0.50", "0.75", "1.00"],
                     size=7.5, mirror=True, grid=True, lc="#333", anchor="y5", ticklabelstandoff=-3,
                     minor=dict(dtick=0.125, tick0=0.125, showgrid=True, gridcolor="#F4F4F4"))
lay["yaxis5"] = axis([Y(680), Y(488)], [4.6, 13.33], [6, 8, 10, 12], size=7.5, mirror=True, grid=True, lc="#333",
                     anchor="x5", minor=dict(dtick=1, showgrid=True, gridcolor="#F4F4F4"))
lay["xaxis6"] = axis([X(419), X(730)], [-0.05, 1.05], [0, 0.25, 0.5, 0.75, 1.0], ["0.00", "0.25", "0.50", "0.75", "1.00"],
                     size=7.5, mirror=True, grid=True, lc="#333", anchor="y6", ticklabelstandoff=-3,
                     minor=dict(dtick=0.125, tick0=0.125, showgrid=True, gridcolor="#F4F4F4"))
lay["yaxis6"] = axis([Y(680), Y(488)], [-0.55, 11.28], [0, 3, 6, 9], size=7.5, mirror=True, grid=True, lc="#333",
                     anchor="x6", minor=dict(dtick=1.5, showgrid=True, gridcolor="#F4F4F4"))
# f, g
for i, (d0, d1, rng) in zip([7, 8], [(55, 252, [0.4, 2.72]), (283, 479, [0.29, 2.6])]):
    lay[f"xaxis{i}"] = axis([X(d0), X(d1)], rng, [1, 2], c_groups, size=5.3, mirror=True, grid=True,
                            lc="#7a7a7a", lw=1.3, anchor=f"y{i}", ticklabelstandoff=-2)
    lay[f"yaxis{i}"] = axis([Y(976), Y(738)], [-0.05, 1.05], [0, 0.25, 0.5, 0.75, 1.0],
                            ["0.00", "0.25", "0.50", "0.75", "1.00"], size=5.3, mirror=True, grid=True,
                            lc="#7a7a7a", lw=1.3, anchor=f"x{i}",
                            minor=dict(dtick=0.125, tick0=0.125, showgrid=True, gridcolor="#F4F4F4"))
# h
lay["xaxis9"] = axis([X(578), X(732)], [-4.69, 0.91], [-4, -3, -2, -1, 0], ["\u22124", "\u22123", "\u22122", "\u22121", "0"],
                     size=7.5, mirror=True, grid=True, lc="#7a7a7a", lw=1.3, anchor="y9", ticklabelstandoff=-3,
                     minor=dict(dtick=0.5, showgrid=True, gridcolor="#F4F4F4"))
lay["yaxis9"] = axis([Y(920), Y(786)], [-0.59, 1.6], size=7, mirror=True, grid=True, lc="#7a7a7a", lw=1.3,
                     anchor="x9", type="category", categoryorder="array", categoryarray=h_terms,
                     showlabels=False, ticks="")
lay["xaxis9"]["tickfont"]["color"] = "#222"

fig.update_layout(**lay)
fig.write_html("out.html", config={"displayModeBar": False, "staticPlot": True},
               post_script="document.documentElement.style.margin='0';document.body.style.margin='0';"
                           "document.body.style.padding='0';document.body.style.overflow='hidden';")
